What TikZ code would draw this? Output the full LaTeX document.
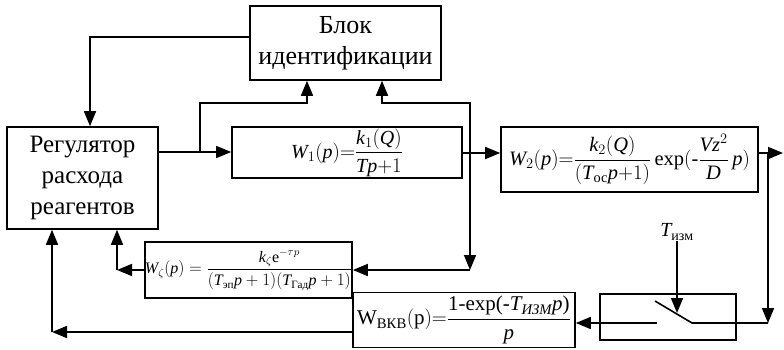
\documentclass[tikz,border=0pt]{standalone}
\usepackage{amsmath}
\usepackage{fontspec}
\setmainfont{Liberation Serif}
\usetikzlibrary{arrows.meta,positioning}
\newcommand{\iv}[1]{\textit{#1}}
\tikzstyle{Block} = [draw, rectangle, line width=1.6pt, inner sep=0pt, align=center, font=\fontsize{26}{31}\selectfont]
\tikzstyle{Formula} = [Block, font=\fontsize{20}{24}\selectfont]
\tikzstyle{Line} = [line width=1.6pt]
\tikzstyle{Arrow} = [Line, -{Triangle[length=15pt,width=12pt]}]

\begin{document}
\begin{tikzpicture}[x=1pt, y=-1pt]
    \useasboundingbox (0,0) rectangle (784,349);

    \node[Block, minimum width=191pt, minimum height=74pt] (ident) at (345.5,43) {Блок\\идентификации};
    \node[Block, minimum width=151pt, minimum height=102pt, font=\fontsize{25}{31}\selectfont] (reg) at (82.5,178) {Регулятор\\расхода\\реагентов};
    \node[Formula, minimum width=230pt, minimum height=51pt] (w1) at (347,152.5)
        {$\iv{W}_1(\iv{p}){=}\dfrac{\iv{k}_1(\iv{Q})}{\iv{Tp}{+}1}$};
    \node[Formula, minimum width=257pt, minimum height=65pt, font=\fontsize{20.5}{24}\selectfont] (w2) at (629.5,159.5)
        {$\iv{W}_2(\iv{p}){=}\dfrac{\iv{k}_2(\iv{Q})}{(\iv{T}_{\text{ос}}\iv{p}{+}1)}\,\text{exp}(\text{-}\dfrac{\iv{Vz}^2}{\iv{D}}\,\iv{p})$};
    \node[Formula, minimum width=207pt, minimum height=56pt, font=\fontsize{16}{20}\selectfont] (wz) at (248.5,270)
        {$\iv{W}_\zeta(\iv{p})=\dfrac{\iv{k}_\zeta\text{e}^{-\tau p}}{(\iv{T}_{\text{эп}}\iv{p}+1)(\iv{T}_{\text{Гад}}\iv{p}+1)}$};
    \node[Formula, minimum width=222pt, minimum height=55pt, font=\fontsize{21}{25}\selectfont] (wkv) at (464,320)
        {$\text{W}_{\text{ВКВ}}(\text{p}){=}\dfrac{\text{1-exp(-}\iv{T}_{\iv{ИЗМ}}\iv{p}\text{)}}{\iv{p}}$};
    \node[Block, minimum width=136pt, minimum height=46pt] (switch) at (668,317) {};
    \node[font=\fontsize{20}{24}\selectfont, inner sep=1pt] (tizm) at (677,232) {$\iv{T}_{\text{изм}}$};

    \coordinate (b1) at (200,152);
    \coordinate (b2) at (470,153);
    \coordinate (b3) at (768,153);
    \coordinate (t1) at (307,103);
    \coordinate (t2) at (382,103);
    \coordinate (out) at (783,153);
    \coordinate (c0) at (657,323);
    \coordinate (c1) at (692,323);
    \coordinate (c2) at (655,301);
    \coordinate (c3) at (677,313);
    \coordinate (k1) at (117,270);
    \coordinate (k2) at (52,332);

    \draw[Arrow] (ident.west |- 0,37) -| (reg.north -| 90,0);
    \draw[Arrow] (reg.east |- b1) -- (w1.west |- b1);
    \draw[Arrow] (b1) |- (t1) -- (t1 |- ident.south);
    \draw[Arrow] (w1.east |- b2) -- (w2.west |- b2);
    \draw[Arrow] (b2) |- (t2) -- (t2 |- ident.south);
    \draw[Arrow] (b2) -- (b2 |- wz.east);
    \draw[Arrow] (b2 |- wz.east) -- (wz.east);
    \draw[Arrow] (w2.east |- b3) -- (out);
    \draw[Arrow] (b3) -- (b3 |- c1);
    \draw[Line] (b3 |- c1) -- (c1) -- (c2);
    \draw[Arrow] (c0) -- (wkv.east |- c0);
    \draw[Arrow] (tizm.south) -- (c3);
    \draw[Arrow] (wz.west) -- (k1);
    \draw[Arrow] (k1) -- (k1 |- reg.south);
    \draw[Arrow] (wkv.west |- k2) -- (k2);
    \draw[Arrow] (k2) -- (k2 |- reg.south);
\end{tikzpicture}
\end{document}
